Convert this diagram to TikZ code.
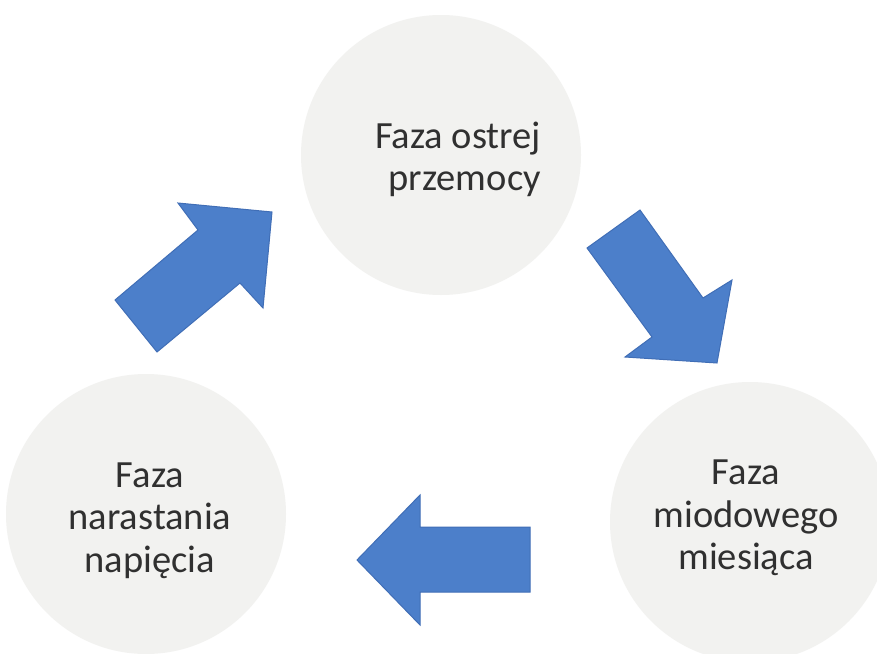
\documentclass[tikz,border=0pt]{standalone}
\usepackage{fontspec}
\setmainfont{Carlito}
\definecolor{circfill}{RGB}{242,242,240}
\definecolor{arrowfill}{RGB}{76,127,202}
\definecolor{arrowedge}{RGB}{64,110,182}
\definecolor{txt}{RGB}{48,48,48}
\tikzset{
  phase/.style={circle, fill=circfill, minimum size=280pt, inner sep=0pt},
  phasetext/.style={align=center, text=txt, font=\fontsize{38.5}{42.5}\selectfont, inner sep=0pt},
  blockarrow/.style={fill=arrowfill, draw=arrowedge, line width=1pt, line join=miter}
}
\begin{document}
\begin{tikzpicture}[x=1pt, y=-1pt]
\useasboundingbox (0,0) rectangle (877,653);
\clip (0,0) rectangle (877,653);
\fill[white] (0,0) rectangle (877,653);
% circles
\node[phase] (top) at (441,155) {};
\node[phase] (left) at (146,514) {};
\node[phase] (right) at (750,522) {};
% texts
\node[phasetext] (toptext) at (458,159.5) {Faza ostrej\\\hspace*{0.35em}przemocy};
\node[phasetext] (lefttext) at (150,520.5) {Faza\\narastania\\napięcia};
\node[phasetext] (righttext) at (746,518) {Faza\\miodowego\\miesiąca};
% arrow: left -> top (up-right)
\draw[blockarrow] (115,300) -- (157,352) -- (240,283) -- (263,308) -- (272,212) -- (178,203) -- (198,230) -- cycle;
% arrow: top -> right (down-right)
\draw[blockarrow] (587,248) -- (640,210) -- (703,298) -- (732,280) -- (717,363) -- (625,357) -- (652,337) -- cycle;
% arrow: right -> left (leftward)
\draw[blockarrow] (357,560) -- (420,495) -- (420,527) -- (530,527) -- (530,592) -- (420,592) -- (420,625) -- cycle;
\end{tikzpicture}
\end{document}
